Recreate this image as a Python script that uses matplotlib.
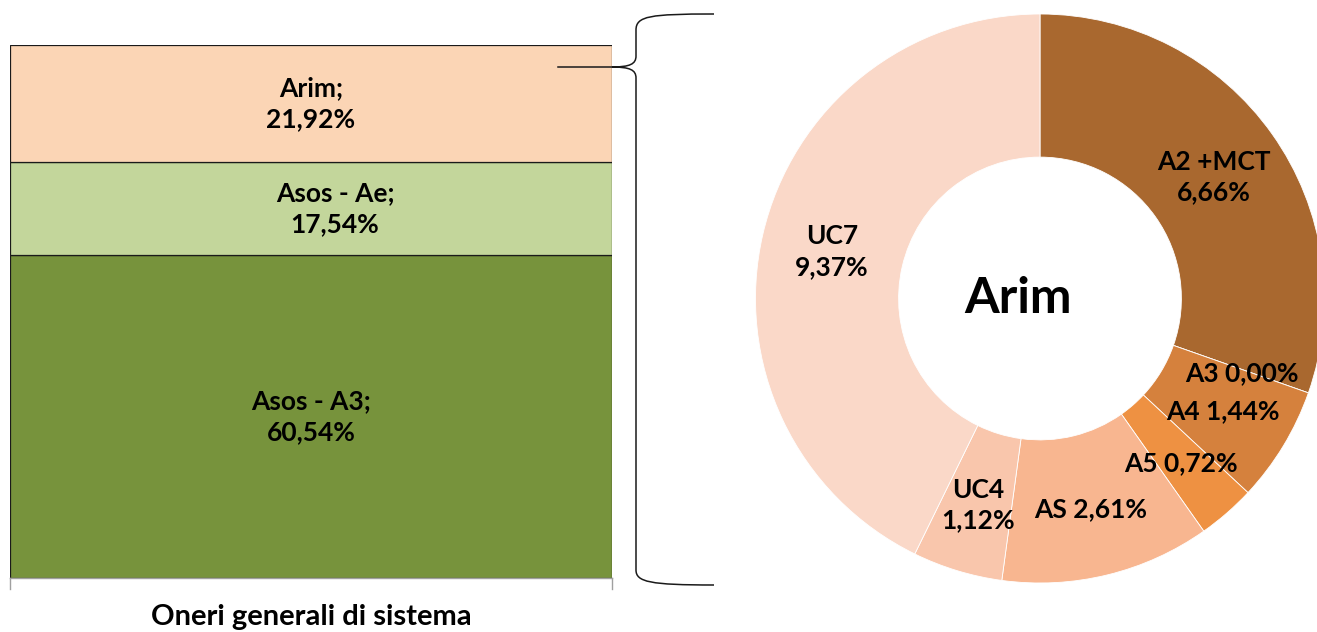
import matplotlib
matplotlib.use("Agg")
import matplotlib.pyplot as plt
from matplotlib.path import Path
from matplotlib.patches import PathPatch

plt.rcParams["font.family"] = ["Lato", "DejaVu Sans"]
plt.rcParams["font.weight"] = "bold"

# bar: oneri generali di sistema (bottom -> top)
bar_labels = ["Asos - A3;\n60,54%", "Asos - Ae;\n17,54%", "Arim;\n21,92%"]
bar_values = [60.54, 17.54, 21.92]
bar_colors = ["#77933C", "#C3D69B", "#FBD5B5"]
bar_category = "Oneri generali di sistema"

# donut: breakdown of Arim (clockwise from the top)
pie_labels = ["A2 +MCT\n6,66%", "A3 0,00%", "A4 1,44%", "A5 0,72%",
              "AS 2,61%", "UC4\n1,12%", "UC7\n9,37%"]
pie_values = [6.66, 0.00, 1.44, 0.72, 2.61, 1.12, 9.37]
pie_colors = ["#A9682F", "#D5813D", "#D5813D", "#EE9142",
              "#F8B690", "#F9C6AC", "#FAD8C8"]

W, H = 1317, 632
fig = plt.figure(figsize=(W / 100, H / 100), dpi=100)


def px_axes(x0, y0, x1, y1):
    # axes rectangle given in image pixels (y down)
    return fig.add_axes([x0 / W, 1 - y1 / H, (x1 - x0) / W, (y1 - y0) / H])


# ---- stacked bar ----
ax_bar = px_axes(10, 45, 612, 578)
bottom = 0
offsets = [0.0, 0.04, 0.0]
for val, col, lab, dx in zip(bar_values, bar_colors, bar_labels, offsets):
    ax_bar.bar(0, val, bottom=bottom, width=1.0, color=col,
               edgecolor="#1a1a1a", linewidth=0.9)
    ax_bar.text(dx, bottom + val / 2, lab, ha="center", va="center",
                fontsize=19, fontweight="bold", linespacing=1.35)
    bottom += val
ax_bar.set_xlim(-0.5, 0.5)
ax_bar.set_ylim(0, 100)
ax_bar.axis("off")

# ---- overlay in pixel coords: axis line, ticks, brace, category ----
ov = fig.add_axes([0, 0, 1, 1], zorder=0)
ov.set_xlim(0, W)
ov.set_ylim(H, 0)
ov.axis("off")
ov.plot([10, 612], [578, 578], color="#a0a0a0", lw=1)
ov.plot([10, 10], [578, 589], color="#a0a0a0", lw=1)
ov.plot([612, 612], [578, 589], color="#a0a0a0", lw=1)
ov.text(311, 617, bar_category, ha="center", va="center",
        fontsize=21, fontweight="bold")

verts = [(714, 14), (650, 14), (636, 16), (636, 30),
         (636, 56),
         (636, 64), (630, 67), (612, 67),
         (630, 67), (636, 70), (636, 78),
         (636, 570),
         (636, 582), (650, 585), (714, 585)]
codes = [Path.MOVETO, Path.CURVE4, Path.CURVE4, Path.CURVE4,
         Path.LINETO,
         Path.CURVE4, Path.CURVE4, Path.CURVE4,
         Path.CURVE4, Path.CURVE4, Path.CURVE4,
         Path.LINETO,
         Path.CURVE4, Path.CURVE4, Path.CURVE4]
ov.add_patch(PathPatch(Path(verts, codes), facecolor="none",
                       edgecolor="#1a1a1a", lw=1.1))
ov.plot([558, 612], [67, 67], color="#1a1a1a", lw=1.1, zorder=5)

# ---- donut ----
cx, cy, R = 1040, 298.5, 284.5
ax_pie = px_axes(cx - R, cy - R, cx + R, cy + R)
ax_pie.pie(pie_values, colors=pie_colors, startangle=90, counterclock=False,
           radius=1.0, wedgeprops=dict(width=0.503, edgecolor="white", linewidth=0.6))
ax_pie.set_xlim(-1, 1)
ax_pie.set_ylim(-1, 1)
ax_pie.axis("off")

# label positions in image pixels
label_pos = [(1214, 177), (1242, 373), (1223, 411), (1181, 463),
             (1091, 509), (978, 505), (832, 252)]
for lab, (lx, ly) in zip(pie_labels, label_pos):
    ax_pie.text((lx - cx) / R, (cy - ly) / R, lab, ha="center", va="center",
                fontsize=19, fontweight="bold", linespacing=1.35)
ax_pie.text((1018 - cx) / R, 0, "Arim", ha="center", va="center",
            fontsize=36, fontweight="bold")

fig.savefig("out.png", dpi=100)
